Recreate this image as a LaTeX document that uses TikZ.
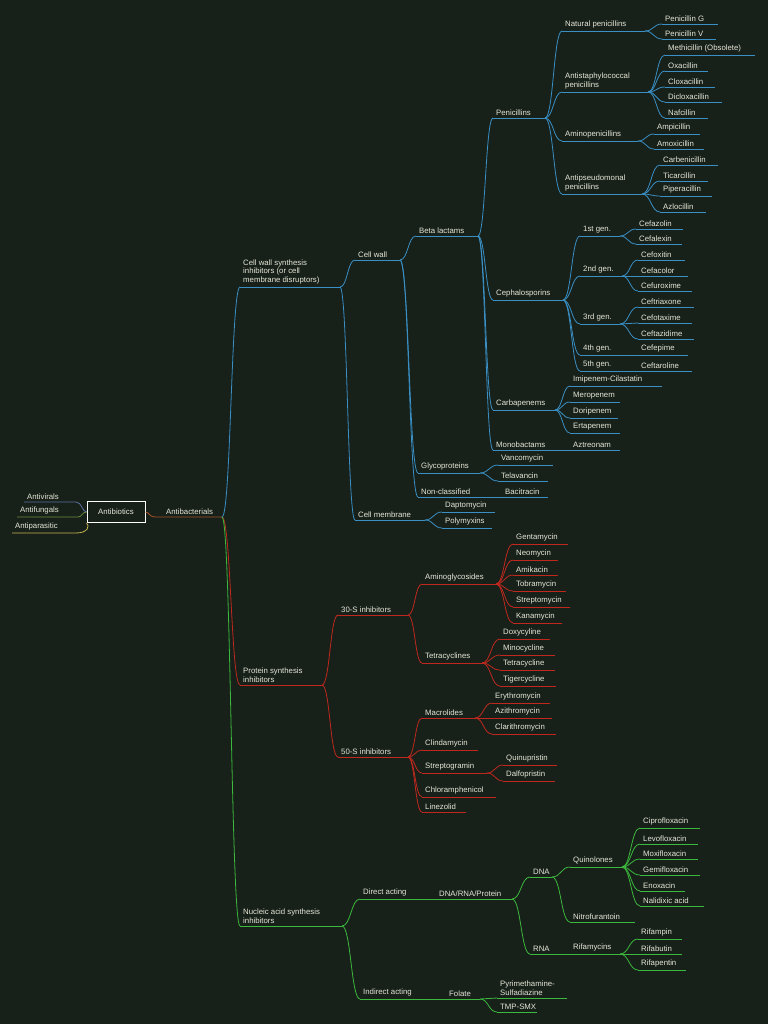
\documentclass[tikz,border=0pt]{standalone}
\usepackage{fontspec}
\setmainfont{Liberation Sans}
\usetikzlibrary{calc}
\definecolor{bg}{HTML}{17211A}
\definecolor{tx}{HTML}{E6E6D6}
\definecolor{cb}{HTML}{3A8FC4}
\definecolor{cr}{HTML}{C0281E}
\definecolor{cg}{HTML}{3CB83C}
\definecolor{colab}{HTML}{A0502A}
\definecolor{colav}{HTML}{5A6FA0}
\definecolor{colaf}{HTML}{6A8A3A}
\definecolor{colap}{HTML}{C8B450}
\tikzset{lbl/.style={text=tx,font=\fontsize{7.8}{8.8}\selectfont,inner sep=0pt,anchor=south west,align=left},
 con/.style={line width=0.8pt}}
% name parent x1 y x2 text color
\newcommand\itm[7]{%
 \coordinate (#1-s) at (#3,#4); \coordinate (#1-e) at (#5,#4);
 \draw[#7,line width=0.8pt] (#1-s) -- (#1-e);
 \draw[#7,con] (#2-e) .. controls ($(#2-e)!0.5!(#2-e -| #1-s)$) and ($(#1-s)!0.5!(#1-s -| #2-e)$) .. (#1-s);
 \node[lbl] (#1) at (#3+3,#4-2.5) {#6};}
\begin{document}
\begin{tikzpicture}[x=1pt,y=-1pt]
\fill[bg] (0,0) rectangle (768,1024);
\useasboundingbox (0,0) rectangle (768,1024);
% root
\node[draw=white,line width=0.8pt,text=tx,font=\fontsize{7.8}{8.8}\selectfont,minimum width=58pt,minimum height=21pt,inner sep=0pt] (ab) at (116,512) {Antibiotics};
\coordinate (ab-e) at (ab.east);
\coordinate (av-s) at (24,502); \coordinate (av-e) at (76,502);
\draw[colav,line width=0.8pt] (av-s)--(av-e) .. controls (82,502) and (82,512) .. (ab.west);
\node[lbl] (av) at (27,499.5) {Antivirals};
\coordinate (af-s) at (17,517); \coordinate (af-e) at (78,517);
\draw[colaf,line width=0.8pt] (af-s)--(af-e) .. controls (82,517) and (82,512) .. (ab.west);
\node[lbl] (af) at (20,514.5) {Antifungals};
\coordinate (ap-s) at (12,533); \coordinate (ap-e) at (76,533);
\draw[colap,line width=0.8pt] (ap-s)--(ap-e) .. controls (88,533) and (90,526) .. (ab.south west);
\node[lbl] (ap) at (15,530.5) {Antiparasitic};
\coordinate (bac-s) at (ab.east); \coordinate (bac-e) at (222,517);
\draw[colab,line width=0.8pt] (bac-s) .. controls (150,512) and (148,517) .. (156,517) -- (bac-e);
\node[lbl] (bac) at (166,514.5) {Antibacterials};
% cell wall branch
\itm{cw}{bac}{240}{287}{340}{Cell wall synthesis\\inhibitors (or cell\\membrane disruptors)}{cb}
\itm{cwl}{cw}{355}{260}{400}{Cell wall}{cb}
\itm{cm}{cw}{355}{520}{425}{Cell membrane}{cb}
\itm{bl}{cwl}{416}{236}{478}{Beta lactams}{cb}
\itm{gp}{cwl}{418}{473}{480}{Glycoproteins}{cb}
\itm{nc}{cwl}{418}{497}{500}{Non-classified}{cb}
\itm{pen}{bl}{493}{118}{545}{Penicillins}{cb}
\itm{ceph}{bl}{493}{300}{563}{Cephalosporins}{cb}
\itm{carb}{bl}{493}{410}{555}{Carbapenems}{cb}
\itm{mono}{bl}{493}{450}{555}{Monobactams}{cb}
\itm{natp}{pen}{562}{31}{645}{Natural penicillins}{cb}
\itm{asp}{pen}{562}{92}{648}{Antistaphylococcal\\penicillins}{cb}
\itm{amp}{pen}{562}{141}{638}{Aminopenicillins}{cb}
\itm{apsp}{pen}{562}{194}{642}{Antipseudomonal\\penicillins}{cb}
\itm{pg}{natp}{662}{24}{718}{Penicillin G}{cb}
\itm{pv}{natp}{662}{39}{716}{Penicillin V}{cb}
\itm{meth}{asp}{665}{55}{755}{Methicillin (Obsolete)}{cb}
\itm{oxa}{asp}{665}{71}{708}{Oxacillin}{cb}
\itm{clox}{asp}{665}{87}{715}{Cloxacillin}{cb}
\itm{diclox}{asp}{665}{102}{722}{Dicloxacillin}{cb}
\itm{naf}{asp}{665}{118}{708}{Nafcillin}{cb}
\itm{ampi}{amp}{654}{134}{700}{Ampicillin}{cb}
\itm{amox}{amp}{654}{149}{704}{Amoxicillin}{cb}
\itm{carbe}{apsp}{660}{165}{718}{Carbenicillin}{cb}
\itm{tica}{apsp}{660}{181}{708}{Ticarcillin}{cb}
\itm{pipe}{apsp}{660}{196}{712}{Piperacillin}{cb}
\itm{azlo}{apsp}{660}{212}{706}{Azlocillin}{cb}
\itm{g1}{ceph}{580}{236}{620}{1st gen.}{cb}
\itm{g2}{ceph}{580}{276}{622}{2nd gen.}{cb}
\itm{g3}{ceph}{580}{324}{620}{3rd gen.}{cb}
\itm{g4}{ceph}{580}{355}{622}{4th gen.}{cb}
\itm{g5}{ceph}{580}{371}{623}{5th gen.}{cb}
\itm{cfz}{g1}{636}{229}{683}{Cefazolin}{cb}
\itm{cfl}{g1}{636}{244}{682}{Cefalexin}{cb}
\itm{cfx}{g2}{638}{260}{685}{Cefoxitin}{cb}
\itm{cfc}{g2}{638}{276}{688}{Cefacolor}{cb}
\itm{cfu}{g2}{638}{291}{692}{Cefuroxime}{cb}
\itm{ctr}{g3}{638}{307}{694}{Ceftriaxone}{cb}
\itm{ctx}{g3}{638}{323}{692}{Cefotaxime}{cb}
\itm{ctz}{g3}{638}{339}{694}{Ceftazidime}{cb}
\itm{cfp}{g4}{638}{355}{688}{Cefepime}{cb}
\itm{cft}{g5}{638}{371}{692}{Ceftaroline}{cb}
\itm{imi}{carb}{570}{386}{662}{Imipenem-Cilastatin}{cb}
\itm{mer}{carb}{570}{402}{620}{Meropenem}{cb}
\itm{dor}{carb}{570}{418}{618}{Doripenem}{cb}
\itm{ert}{carb}{570}{433}{620}{Ertapenem}{cb}
\itm{azt}{mono}{570}{450}{620}{Aztreonam}{cb}
\itm{van}{gp}{498}{465}{553}{Vancomycin}{cb}
\itm{tel}{gp}{498}{481}{548}{Telavancin}{cb}
\itm{bact}{nc}{502}{497}{548}{Bacitracin}{cb}
\itm{dap}{cm}{442}{512}{495}{Daptomycin}{cb}
\itm{pol}{cm}{442}{528}{492}{Polymyxins}{cb}
% protein
\itm{ps}{bac}{240}{685}{322}{Protein synthesis\\inhibitors}{cr}
\itm{s30}{ps}{338}{615}{408}{30-S inhibitors}{cr}
\itm{s50}{ps}{338}{757}{408}{50-S inhibitors}{cr}
\itm{amg}{s30}{422}{584}{496}{Aminoglycosides}{cr}
\itm{tet}{s30}{422}{663}{482}{Tetracyclines}{cr}
\itm{gen}{amg}{513}{544}{568}{Gentamycin}{cr}
\itm{neo}{amg}{513}{560}{558}{Neomycin}{cr}
\itm{ami}{amg}{513}{575}{558}{Amikacin}{cr}
\itm{tob}{amg}{513}{591}{566}{Tobramycin}{cr}
\itm{str}{amg}{513}{607}{570}{Streptomycin}{cr}
\itm{kan}{amg}{513}{623}{562}{Kanamycin}{cr}
\itm{dox}{tet}{500}{639}{550}{Doxycyline}{cr}
\itm{min}{tet}{500}{655}{555}{Minocycline}{cr}
\itm{tetr}{tet}{500}{670}{555}{Tetracycline}{cr}
\itm{tig}{tet}{500}{686}{556}{Tigercycline}{cr}
\itm{mac}{s50}{422}{718}{475}{Macrolides}{cr}
\itm{cli}{s50}{422}{750}{478}{Clindamycin}{cr}
\itm{stg}{s50}{422}{773}{487}{Streptogramin}{cr}
\itm{chl}{s50}{422}{797}{496}{Chloramphenicol}{cr}
\itm{lin}{s50}{422}{812}{466}{Linezolid}{cr}
\itm{ery}{mac}{492}{703}{550}{Erythromycin}{cr}
\itm{azi}{mac}{492}{718}{552}{Azithromycin}{cr}
\itm{cla}{mac}{492}{734}{556}{Clarithromycin}{cr}
\itm{qui}{stg}{503}{765}{557}{Quinupristin}{cr}
\itm{dal}{stg}{503}{781}{555}{Dalfopristin}{cr}
% nucleic
\itm{na}{bac}{240}{926}{342}{Nucleic acid synthesis\\inhibitors}{cg}
\itm{da}{na}{360}{899}{418}{Direct acting}{cg}
\itm{ia}{na}{360}{999}{430}{Indirect acting}{cg}
\itm{drp}{da}{436}{899}{512}{DNA/RNA/Protein}{cg}
\itm{fol}{ia}{446}{999}{480}{Folate}{cg}
\itm{dna}{drp}{530}{877}{552}{DNA}{cg}
\itm{rna}{drp}{530}{954}{552}{RNA}{cg}
\itm{quin}{dna}{570}{867}{622}{Quinolones}{cg}
\itm{nit}{dna}{570}{922}{635}{Nitrofurantoin}{cg}
\itm{cip}{quin}{640}{828}{700}{Ciprofloxacin}{cg}
\itm{lev}{quin}{640}{844}{698}{Levofloxacin}{cg}
\itm{mox}{quin}{640}{859}{698}{Moxifloxacin}{cg}
\itm{gem}{quin}{640}{875}{700}{Gemifloxacin}{cg}
\itm{eno}{quin}{640}{891}{685}{Enoxacin}{cg}
\itm{nal}{quin}{640}{906}{704}{Nalidixic acid}{cg}
\itm{rif}{rna}{570}{954}{620}{Rifamycins}{cg}
\itm{rfp}{rif}{638}{939}{682}{Rifampin}{cg}
\itm{rfb}{rif}{638}{954}{682}{Rifabutin}{cg}
\itm{rfpt}{rif}{638}{970}{686}{Rifapentin}{cg}
\itm{pyr}{fol}{497}{998}{567}{Pyrimethamine-\\Sulfadiazine}{cg}
\itm{tmp}{fol}{497}{1012}{537}{TMP-SMX}{cg}
\end{tikzpicture}
\end{document}
